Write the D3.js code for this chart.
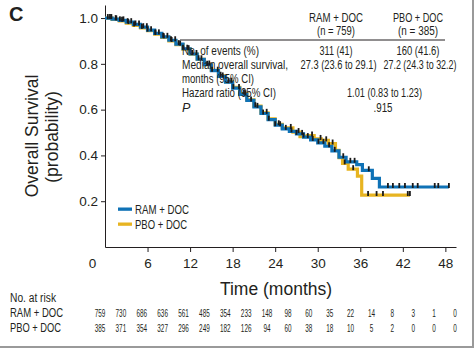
<!DOCTYPE html>
<html>
<head>
<meta charset="utf-8">
<script src="https://cdn.jsdelivr.net/npm/d3@7"></script>
<style>
  body { margin: 0; background: #fff; }
  svg { display: block; }
  text { font-family: "Liberation Sans", Arial, Helvetica, sans-serif; }
</style>
</head>
<body>
<div id="chart"></div>
<script>
/* Kaplan-Meier overall survival, panel C */

const width = 475, height = 351;
const ink = "#231f20", blue = "#0f72b6", gold = "#e7b421";

// survival curves: [months, probability]
const ramCurve = [[0,1],[1,0.995],[2,0.99],[3,0.982],[4,0.972],[5,0.96],[6,0.947],[7,0.933],[8,0.918],[9,0.903],
  [10,0.886],[11,0.866],[12,0.843],[13,0.82],[14,0.796],[15,0.77],[16,0.745],[17,0.72],[18,0.694],[19,0.667],
  [20,0.64],[21,0.612],[22,0.583],[23,0.556],[24,0.532],[25,0.516],[26,0.505],[27,0.494],[28,0.48],[29,0.468],
  [30,0.455],[31,0.44],[32,0.42],[33,0.392],[34,0.372],[35.5,0.36],[36.3,0.335],[37.7,0.3],[38.7,0.262],[48.5,0.262]];
const pboCurve = [[0,1],[1,0.994],[2,0.988],[3,0.978],[4,0.968],[5,0.957],[6,0.945],[7,0.93],[8,0.916],[9,0.9],
  [10,0.884],[11,0.864],[12,0.842],[13,0.82],[14,0.797],[15,0.772],[16,0.748],[17,0.722],[18,0.697],[19,0.67],
  [20,0.643],[21,0.615],[22,0.586],[23,0.56],[24,0.536],[25,0.52],[26.5,0.502],[27.5,0.482],[28.5,0.487],[29.5,0.472],
  [30.5,0.466],[31.5,0.452],[32.5,0.422],[33,0.39],[33.5,0.365],[34.3,0.34],[35.6,0.31],[36.2,0.227],[43,0.227]];

// censoring marks (months)
const ramCensor = [0.4,0.9,1.5,2.1,2.6,3.2,3.7,4.3,4.8,5.4,5.9,6.5,7.1,7.6,8.2,8.8,9.3,9.9,10.4,11,11.6,12.3,12.9,13.6,
  14.4,15.1,15.9,16.6,17.4,18.1,18.9,19.8,20.6,21.5,22.3,23.1,24,24.7,25.5,26.3,27,27.8,28.6,29.3,30.1,30.8,31.6,
  32.4,33.6,34.6,35.2,37.2,39.9,40.6,41.5,42.3,43.4,44.1,46.5,47,48.5];
const pboCensor = [0.7,1.6,2.4,3.3,4.1,5.2,6,7.1,8.3,9.4,10.6,11.8,13.2,14.7,16.3,17.8,19.6,21.2,22.8,24.5,26.2,27.3,
  28,29.2,30.4,31.2,32.1,33.8,35,37.1,38.3,39.2,42.7,43];

// numbers at risk, every 3 months
const riskTimes = [0,3,6,9,12,15,18,21,24,27,30,33,36,39,42,45,48,51];
const ramRisk = [759,730,686,636,561,485,354,233,148,98,60,35,22,14,8,3,1,0];
const pboRisk = [385,371,354,327,296,249,182,126,94,60,38,18,10,5,2,0,0,0];

const xTicks = [0,6,12,18,24,30,36,42,48];
const yTicks = [0.2,0.4,0.6,0.8,1.0];

const svg = d3.select("#chart").append("svg")
  .attr("width", width).attr("height", height);

const x = d3.scaleLinear().domain([0, 49.5]).range([105, 456]);
const y = d3.scaleLinear().domain([0, 1.057]).range([247, 5]);

// condensed look: squeeze text to the width it has in the figure
const fit = (sel, w) => sel.attr("textLength", w).attr("lengthAdjust", "spacingAndGlyphs");

// frame shadow right and bottom
svg.append("path").attr("d", `M${width - 2},0V${height - 4}H0`)
  .attr("fill", "none").attr("stroke", "#9a9a9a").attr("stroke-width", 2);

// axes
const xAxis = svg.append("g")
  .attr("transform", `translate(0,${y(0)})`)
  .call(d3.axisBottom(x).tickValues(xTicks).tickSize(5).tickSizeOuter(0).tickPadding(6));
xAxis.selectAll(".tick").filter(d => d === 0).select("line").remove();
xAxis.selectAll(".tick").filter(d => d === 0).select("text").attr("dx", -13);

const yAxis = svg.append("g")
  .attr("transform", `translate(${x(0)},0)`)
  .call(d3.axisLeft(y).tickValues(yTicks).tickFormat(d3.format(".1f")).tickSize(4).tickSizeOuter(0));

[xAxis, yAxis].forEach(g => {
  g.attr("font-family", null).attr("font-size", null);
  g.selectAll("text").attr("font-size", 13.5).attr("fill", ink);
  g.selectAll("line, path").attr("stroke", ink);
});

// axis titles
svg.append("text")
  .attr("x", 276).attr("y", 295).attr("text-anchor", "middle")
  .attr("font-size", 17.5).attr("fill", ink).text("Time (months)");
svg.append("text")
  .attr("transform", "translate(38,136) rotate(-90)").attr("text-anchor", "middle")
  .attr("font-size", 17.5).attr("fill", ink).text("Overall Survival");
svg.append("text")
  .attr("transform", "translate(58,137) rotate(-90)").attr("text-anchor", "middle")
  .attr("font-size", 17.5).attr("fill", ink).text("(probability)");

// panel letter
svg.append("text")
  .attr("x", 9).attr("y", 21).attr("font-size", 20).attr("font-weight", "bold")
  .attr("fill", ink).text("C");

// curves
const line = d3.line().x(d => x(d[0])).y(d => y(d[1])).curve(d3.curveStepAfter);
const survAt = (curve, t) => { let s = 1; for (const p of curve) if (p[0] <= t) s = p[1]; return s; };

svg.append("path").datum(pboCurve).attr("d", line)
  .attr("fill", "none").attr("stroke", gold).attr("stroke-width", 3.2);
svg.append("path").datum(ramCurve).attr("d", line)
  .attr("fill", "none").attr("stroke", blue).attr("stroke-width", 3.2);

[[ramCensor, ramCurve], [pboCensor, pboCurve]].forEach(([cens, curve]) => {
  svg.append("g").selectAll("line").data(cens).join("line")
    .attr("x1", d => x(d)).attr("x2", d => x(d))
    .attr("y1", d => y(survAt(curve, d)) - 4)
    .attr("y2", d => y(survAt(curve, d)) + 1)
    .attr("stroke", "#1a1a1a").attr("stroke-width", 1.8);
});

// legend
const legend = [["RAM + DOC", blue, 54], ["PBO + DOC", gold, 52]];
const lg = svg.append("g");
legend.forEach(([name, col, w], i) => {
  lg.append("rect").attr("x", 118).attr("y", 207.5 + i * 15).attr("width", 14).attr("height", 3.3).attr("fill", col);
  lg.append("text").attr("x", 135).attr("y", 213.5 + i * 15).attr("font-size", 13).attr("fill", ink)
    .text(name).call(fit, w);
});

// summary table
const tb = svg.append("g").attr("fill", ink).attr("font-size", 12.5);
const heads = [["RAM + DOC", 54, "(n = 759)", 38, 336], ["PBO + DOC", 50, "(n = 385)", 40, 418]];
heads.forEach(([a, wa, b, wb, cx]) => {
  tb.append("text").attr("x", cx).attr("y", 21.5).attr("text-anchor", "middle").attr("font-size", 12.5).text(a).call(fit, wa);
  tb.append("text").attr("x", cx).attr("y", 34.5).attr("text-anchor", "middle").attr("font-size", 12).text(b).call(fit, wb);
});
tb.append("line").attr("x1", 180).attr("x2", 445).attr("y1", 40).attr("y2", 40).attr("stroke", ink).attr("stroke-width", 1);
const rowLabels = [["No. of events (%)", 55, 77], ["Median overall survival,", 68.5, 106],
  ["months (95% CI)", 83, 72], ["Hazard ratio (95% CI)", 97, 94]];
rowLabels.forEach(([t, yy, w]) => tb.append("text").attr("x", 182).attr("y", yy).text(t).call(fit, w));
tb.append("text").attr("x", 182).attr("y", 111.5).attr("font-style", "italic").text("P");
const rowVals = [["311 (41)", 336, 55, 33], ["160 (41.6)", 418, 55, 43], ["27.3 (23.6 to 29.1)", 338.5, 68.5, 76],
  ["27.2 (24.3 to 32.2)", 420, 68.5, 73], ["1.01 (0.83 to 1.23)", 384.5, 97, 75], [".915", 383, 111.5, 19]];
rowVals.forEach(([t, cx, yy, w]) => tb.append("text").attr("x", cx).attr("y", yy)
  .attr("text-anchor", "middle").text(t).call(fit, w));

// numbers at risk
const rx = d3.scalePoint().domain(riskTimes).range([100, 455]);
const rk = svg.append("g").attr("fill", ink);
rk.append("text").attr("x", 10).attr("y", 302).attr("font-size", 12.5).text("No. at risk").call(fit, 46);
[["RAM + DOC", ramRisk, 317, 53], ["PBO + DOC", pboRisk, 332, 51]].forEach(([name, vals, yy, w]) => {
  rk.append("text").attr("x", 10).attr("y", yy).attr("font-size", 13).text(name).call(fit, w);
  rk.selectAll(null).data(vals).join("text")
    .attr("transform", (d, i) => `translate(${rx(riskTimes[i])},${yy}) scale(0.58,1)`)
    .attr("text-anchor", "middle").attr("font-size", 11).text(d => d);
});
</script>
</body>
</html>
